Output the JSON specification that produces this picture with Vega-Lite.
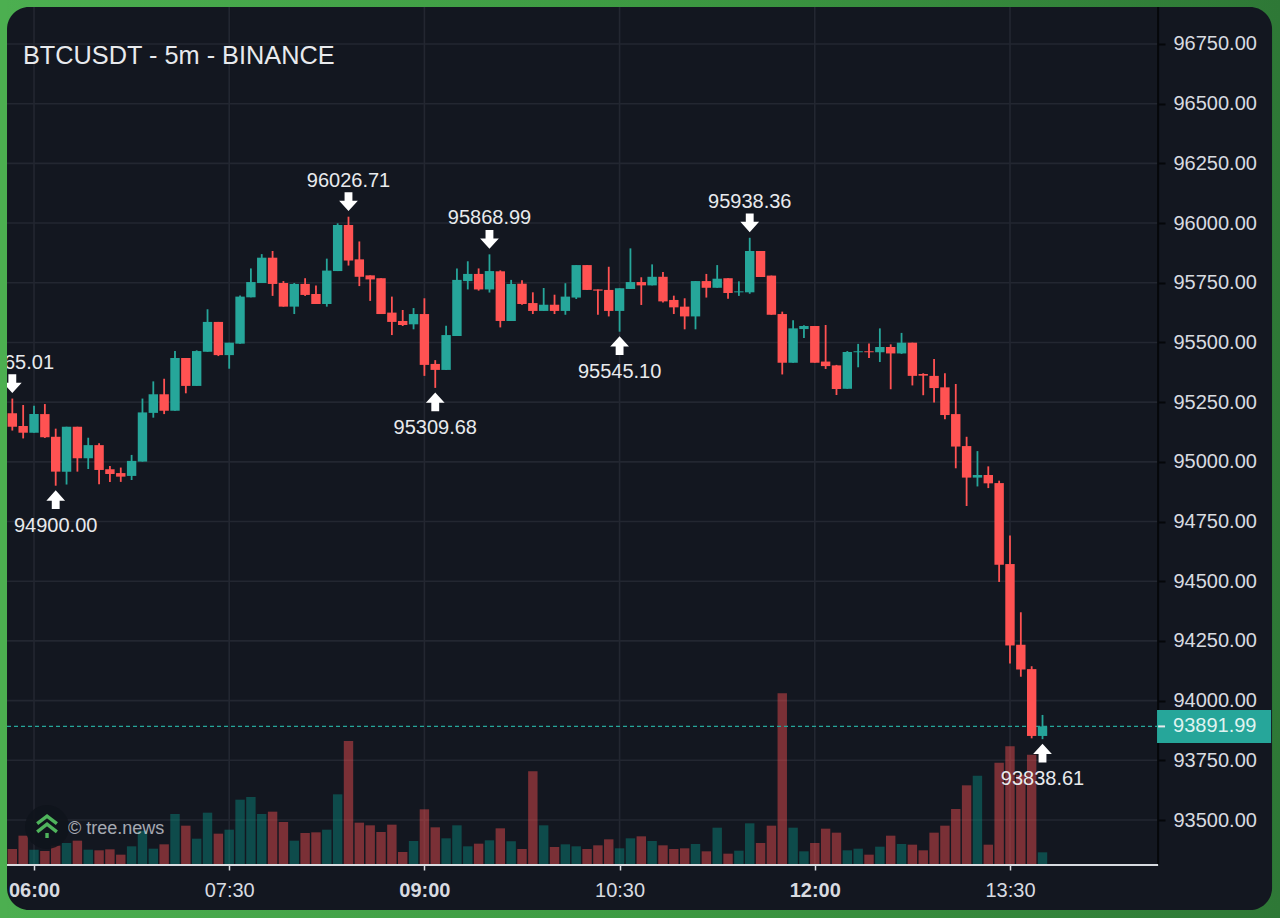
{
  "$schema": "https://vega.github.io/schema/vega-lite/v6.json",
  "width": 1280,
  "height": 918,
  "padding": 0,
  "autosize": {"type": "none"},
  "background": "#3e9142",
  "title": {"text": "BTCUSDT - 5m - BINANCE", "anchor": "start", "frame": "group", "orient": "top", "offset": -81, "dx": 23, "baseline": "middle", "fontSize": 25.3, "fontWeight": "normal", "color": "#e8eaed"},
  "config": {"view": {"stroke": null}, "font": "Liberation Sans"},
  "datasets": {
    "candles": [
      {"t":"2025-01-07T05:50:00","o":95203,"h":95265.01,"l":95131,"c":95147,"v":45},
      {"t":"2025-01-07T05:55:00","o":95150,"h":95238,"l":95098,"c":95122,"v":85},
      {"t":"2025-01-07T06:00:00","o":95122,"h":95235,"l":95122,"c":95200,"v":43},
      {"t":"2025-01-07T06:05:00","o":95200,"h":95242,"l":95100,"c":95103,"v":39},
      {"t":"2025-01-07T06:10:00","o":95105,"h":95139,"l":94900,"c":94959,"v":55},
      {"t":"2025-01-07T06:15:00","o":94959,"h":95147,"l":94905,"c":95147,"v":63},
      {"t":"2025-01-07T06:20:00","o":95147,"h":95147,"l":94959,"c":95015,"v":70},
      {"t":"2025-01-07T06:25:00","o":95015,"h":95101,"l":94970,"c":95070,"v":43},
      {"t":"2025-01-07T06:30:00","o":95070,"h":95078,"l":94906,"c":94966,"v":41},
      {"t":"2025-01-07T06:35:00","o":94969,"h":94983,"l":94916,"c":94949,"v":44},
      {"t":"2025-01-07T06:40:00","o":94953,"h":94976,"l":94916,"c":94938,"v":28},
      {"t":"2025-01-07T06:45:00","o":94941,"h":95029,"l":94924,"c":95004,"v":53},
      {"t":"2025-01-07T06:50:00","o":95001,"h":95265,"l":95001,"c":95207,"v":100},
      {"t":"2025-01-07T06:55:00","o":95205,"h":95337,"l":95185,"c":95283,"v":46},
      {"t":"2025-01-07T07:00:00","o":95283,"h":95348,"l":95200,"c":95214,"v":59},
      {"t":"2025-01-07T07:05:00","o":95214,"h":95464,"l":95214,"c":95435,"v":150},
      {"t":"2025-01-07T07:10:00","o":95435,"h":95435,"l":95287,"c":95318,"v":115},
      {"t":"2025-01-07T07:15:00","o":95318,"h":95467,"l":95318,"c":95464,"v":76},
      {"t":"2025-01-07T07:20:00","o":95461,"h":95639,"l":95461,"c":95586,"v":154},
      {"t":"2025-01-07T07:25:00","o":95586,"h":95586,"l":95443,"c":95447,"v":91},
      {"t":"2025-01-07T07:30:00","o":95447,"h":95499,"l":95390,"c":95499,"v":103},
      {"t":"2025-01-07T07:35:00","o":95495,"h":95697,"l":95495,"c":95692,"v":193},
      {"t":"2025-01-07T07:40:00","o":95689,"h":95810,"l":95689,"c":95753,"v":201},
      {"t":"2025-01-07T07:45:00","o":95749,"h":95870,"l":95749,"c":95855,"v":150},
      {"t":"2025-01-07T07:50:00","o":95855,"h":95883,"l":95695,"c":95745,"v":157},
      {"t":"2025-01-07T07:55:00","o":95749,"h":95757,"l":95650,"c":95650,"v":126},
      {"t":"2025-01-07T08:00:00","o":95650,"h":95749,"l":95619,"c":95745,"v":70},
      {"t":"2025-01-07T08:05:00","o":95745,"h":95769,"l":95695,"c":95699,"v":93},
      {"t":"2025-01-07T08:10:00","o":95703,"h":95738,"l":95661,"c":95661,"v":95},
      {"t":"2025-01-07T08:15:00","o":95661,"h":95851,"l":95650,"c":95801,"v":103},
      {"t":"2025-01-07T08:20:00","o":95799,"h":95999,"l":95799,"c":95992,"v":209},
      {"t":"2025-01-07T08:25:00","o":95992,"h":96026.71,"l":95822,"c":95843,"v":369},
      {"t":"2025-01-07T08:30:00","o":95848,"h":95923,"l":95736,"c":95775,"v":124},
      {"t":"2025-01-07T08:35:00","o":95781,"h":95781,"l":95674,"c":95764,"v":116},
      {"t":"2025-01-07T08:40:00","o":95769,"h":95769,"l":95619,"c":95619,"v":96},
      {"t":"2025-01-07T08:45:00","o":95625,"h":95692,"l":95531,"c":95586,"v":118},
      {"t":"2025-01-07T08:50:00","o":95590,"h":95636,"l":95569,"c":95573,"v":36},
      {"t":"2025-01-07T08:55:00","o":95576,"h":95644,"l":95555,"c":95619,"v":69},
      {"t":"2025-01-07T09:00:00","o":95619,"h":95685,"l":95360,"c":95406,"v":164},
      {"t":"2025-01-07T09:05:00","o":95410,"h":95426,"l":95309.68,"c":95385,"v":110},
      {"t":"2025-01-07T09:10:00","o":95385,"h":95570,"l":95385,"c":95531,"v":77},
      {"t":"2025-01-07T09:15:00","o":95527,"h":95810,"l":95527,"c":95762,"v":116},
      {"t":"2025-01-07T09:20:00","o":95757,"h":95840,"l":95722,"c":95787,"v":53},
      {"t":"2025-01-07T09:25:00","o":95787,"h":95810,"l":95717,"c":95722,"v":61},
      {"t":"2025-01-07T09:30:00","o":95722,"h":95868.99,"l":95709,"c":95799,"v":71},
      {"t":"2025-01-07T09:35:00","o":95798,"h":95802,"l":95563,"c":95590,"v":107},
      {"t":"2025-01-07T09:40:00","o":95590,"h":95762,"l":95590,"c":95745,"v":68},
      {"t":"2025-01-07T09:45:00","o":95746,"h":95760,"l":95658,"c":95661,"v":45},
      {"t":"2025-01-07T09:50:00","o":95665,"h":95710,"l":95619,"c":95632,"v":278},
      {"t":"2025-01-07T09:55:00","o":95632,"h":95728,"l":95632,"c":95658,"v":116},
      {"t":"2025-01-07T10:00:00","o":95658,"h":95700,"l":95619,"c":95632,"v":51},
      {"t":"2025-01-07T10:05:00","o":95632,"h":95748,"l":95616,"c":95692,"v":59},
      {"t":"2025-01-07T10:10:00","o":95688,"h":95824,"l":95682,"c":95824,"v":53},
      {"t":"2025-01-07T10:15:00","o":95824,"h":95824,"l":95720,"c":95720,"v":45},
      {"t":"2025-01-07T10:20:00","o":95722,"h":95722,"l":95616,"c":95717,"v":56},
      {"t":"2025-01-07T10:25:00","o":95720,"h":95817,"l":95609,"c":95632,"v":74},
      {"t":"2025-01-07T10:30:00","o":95632,"h":95727,"l":95545.10,"c":95727,"v":47},
      {"t":"2025-01-07T10:35:00","o":95724,"h":95894,"l":95724,"c":95753,"v":77},
      {"t":"2025-01-07T10:40:00","o":95753,"h":95773,"l":95657,"c":95739,"v":83},
      {"t":"2025-01-07T10:45:00","o":95739,"h":95827,"l":95739,"c":95775,"v":69},
      {"t":"2025-01-07T10:50:00","o":95775,"h":95795,"l":95667,"c":95672,"v":56},
      {"t":"2025-01-07T10:55:00","o":95678,"h":95696,"l":95619,"c":95647,"v":45},
      {"t":"2025-01-07T11:00:00","o":95650,"h":95685,"l":95555,"c":95609,"v":47},
      {"t":"2025-01-07T11:05:00","o":95609,"h":95757,"l":95555,"c":95757,"v":60},
      {"t":"2025-01-07T11:10:00","o":95757,"h":95787,"l":95688,"c":95729,"v":38},
      {"t":"2025-01-07T11:15:00","o":95729,"h":95824,"l":95729,"c":95767,"v":109},
      {"t":"2025-01-07T11:20:00","o":95769,"h":95769,"l":95683,"c":95707,"v":31},
      {"t":"2025-01-07T11:25:00","o":95710,"h":95756,"l":95695,"c":95714,"v":40},
      {"t":"2025-01-07T11:30:00","o":95710,"h":95938.36,"l":95704,"c":95883,"v":122},
      {"t":"2025-01-07T11:35:00","o":95883,"h":95883,"l":95774,"c":95774,"v":63},
      {"t":"2025-01-07T11:40:00","o":95780,"h":95780,"l":95616,"c":95616,"v":115},
      {"t":"2025-01-07T11:45:00","o":95619,"h":95629,"l":95366,"c":95415,"v":512},
      {"t":"2025-01-07T11:50:00","o":95415,"h":95593,"l":95415,"c":95559,"v":109},
      {"t":"2025-01-07T11:55:00","o":95556,"h":95572,"l":95519,"c":95569,"v":38},
      {"t":"2025-01-07T12:00:00","o":95569,"h":95569,"l":95415,"c":95415,"v":63},
      {"t":"2025-01-07T12:05:00","o":95420,"h":95573,"l":95389,"c":95401,"v":106},
      {"t":"2025-01-07T12:10:00","o":95404,"h":95406,"l":95280,"c":95305,"v":94},
      {"t":"2025-01-07T12:15:00","o":95306,"h":95464,"l":95306,"c":95460,"v":41},
      {"t":"2025-01-07T12:20:00","o":95459,"h":95494,"l":95396,"c":95463,"v":46},
      {"t":"2025-01-07T12:25:00","o":95463,"h":95496,"l":95435,"c":95459,"v":28},
      {"t":"2025-01-07T12:30:00","o":95459,"h":95559,"l":95418,"c":95481,"v":52},
      {"t":"2025-01-07T12:35:00","o":95481,"h":95492,"l":95304,"c":95454,"v":85},
      {"t":"2025-01-07T12:40:00","o":95454,"h":95540,"l":95452,"c":95499,"v":60},
      {"t":"2025-01-07T12:45:00","o":95499,"h":95499,"l":95320,"c":95360,"v":58},
      {"t":"2025-01-07T12:50:00","o":95368,"h":95371,"l":95279,"c":95361,"v":41},
      {"t":"2025-01-07T12:55:00","o":95360,"h":95431,"l":95248,"c":95309,"v":94},
      {"t":"2025-01-07T13:00:00","o":95312,"h":95371,"l":95178,"c":95196,"v":115},
      {"t":"2025-01-07T13:05:00","o":95200,"h":95326,"l":94973,"c":95064,"v":165},
      {"t":"2025-01-07T13:10:00","o":95066,"h":95105,"l":94815,"c":94934,"v":236},
      {"t":"2025-01-07T13:15:00","o":94934,"h":95045,"l":94897,"c":94945,"v":265},
      {"t":"2025-01-07T13:20:00","o":94945,"h":94981,"l":94890,"c":94910,"v":58},
      {"t":"2025-01-07T13:25:00","o":94911,"h":94921,"l":94497,"c":94569,"v":304},
      {"t":"2025-01-07T13:30:00","o":94572,"h":94691,"l":94155,"c":94231,"v":353},
      {"t":"2025-01-07T13:35:00","o":94234,"h":94370,"l":94100,"c":94130,"v":268},
      {"t":"2025-01-07T13:40:00","o":94132,"h":94144,"l":93842,"c":93852,"v":328},
      {"t":"2025-01-07T13:45:00","o":93852,"h":93940,"l":93838.61,"c":93891.99,"v":35}
    ],
    "highs": [
      {"t":"2025-01-07T05:50:00","p":95265.01},
      {"t":"2025-01-07T08:25:00","p":96026.71},
      {"t":"2025-01-07T09:30:00","p":95868.99},
      {"t":"2025-01-07T11:30:00","p":95938.36}
    ],
    "lows": [
      {"t":"2025-01-07T06:10:00","p":94900.00},
      {"t":"2025-01-07T09:05:00","p":95309.68},
      {"t":"2025-01-07T10:30:00","p":95545.10},
      {"t":"2025-01-07T13:45:00","p":93838.61}
    ],
    "priceLevels": [
      {"p":93500},{"p":93750},{"p":94000},{"p":94250},{"p":94500},{"p":94750},{"p":95000},
      {"p":95250},{"p":95500},{"p":95750},{"p":96000},{"p":96250},{"p":96500},{"p":96750}
    ],
    "timeLevels": [
      {"t":"2025-01-07T06:00:00"},{"t":"2025-01-07T07:30:00"},{"t":"2025-01-07T09:00:00"},
      {"t":"2025-01-07T10:30:00"},{"t":"2025-01-07T12:00:00"},{"t":"2025-01-07T13:30:00"}
    ],
    "last": [{"p":93891.99}],
    "one": [{}]
  },
  "layer": [
    {
      "data": {"name": "one"},
      "resolve": {"axis": {"x": "independent"}},
      "layer": [
        {
          "mark": {"type": "rect", "color": {"gradient": "linear", "x1": 0, "y1": 0, "x2": 1, "y2": 0, "stops": [{"offset": 0, "color": "#4caf50"}, {"offset": 0.5, "color": "#3d9a42"}, {"offset": 1, "color": "#2e7836"}]}},
          "encoding": {
            "x": {
              "datum": {"year":2025,"month":1,"date":7,"hours":5,"minutes":44,"seconds":19}, "type": "temporal", "title": null,
              "scale": {"domain": [{"year":2025,"month":1,"date":7,"hours":5,"minutes":44,"seconds":19}, {"year":2025,"month":1,"date":7,"hours":15,"minutes":34,"seconds":30}], "padding": 0, "nice": false},
              "axis": {
                "orient": "bottom", "offset": -53,
                "values": [{"year":2025,"month":1,"date":7,"hours":6}, {"year":2025,"month":1,"date":7,"hours":7,"minutes":30}, {"year":2025,"month":1,"date":7,"hours":9}, {"year":2025,"month":1,"date":7,"hours":10,"minutes":30}, {"year":2025,"month":1,"date":7,"hours":12}, {"year":2025,"month":1,"date":7,"hours":13,"minutes":30}],
                "format": "%H:%M", "grid": false, "domain": false, "zindex": 1, "tickColor": "#d8dbe0", "tickSize": 5, "tickWidth": 1.5,
                "labelFontSize": 20, "labelColor": "#d8dbe0", "labelPadding": 10, "labelOverlap": false, "labelFlush": false,
                "labelFontWeight": {"condition": {"test": "hours(datum.value) % 3 == 0 && minutes(datum.value) == 0", "value": "bold"}, "value": "normal"}
              }
            },
            "x2": {"datum": {"year":2025,"month":1,"date":7,"hours":15,"minutes":34,"seconds":30}},
            "y": {"datum": 96934.2, "type": "quantitative", "axis": null, "scale": {"domain": [93089.6, 96934.2], "zero": false, "nice": false}},
            "y2": {"datum": 93089.6}
          }
        },
        {
          "mark": {"type": "rect", "color": "#131720", "cornerRadius": 22},
          "encoding": {
            "x": {"datum": {"year":2025,"month":1,"date":7,"hours":5,"minutes":47,"seconds":33}, "type": "temporal", "axis": null},
            "x2": {"datum": {"year":2025,"month":1,"date":7,"hours":15,"minutes":30,"seconds":50}},
            "y": {"datum": 96904.9, "type": "quantitative", "axis": null},
            "y2": {"datum": 93123}
          }
        },
        {
          "data": {"name": "priceLevels"},
          "mark": {"type": "rule", "color": "#232731", "strokeWidth": 1.6},
          "encoding": {
            "x": {"datum": {"year":2025,"month":1,"date":7,"hours":5,"minutes":47,"seconds":33}, "type": "temporal", "axis": null},
            "x2": {"datum": {"year":2025,"month":1,"date":7,"hours":14,"minutes":38,"seconds":18}},
            "y": {"field": "p", "type": "quantitative", "axis": null}
          }
        },
        {
          "data": {"name": "timeLevels"},
          "mark": {"type": "rule", "color": "#232731", "strokeWidth": 1.6},
          "encoding": {
            "x": {"field": "t", "type": "temporal", "axis": null},
            "y": {"datum": 96904.9, "type": "quantitative", "axis": null},
            "y2": {"datum": 93311.5}
          }
        }
      ]
    },
    {
      "data": {"name": "candles"},
      "mark": {"type": "bar", "size": 9.4, "opacity": 0.44},
      "encoding": {
        "x": {"field": "t", "type": "temporal", "axis": null, "scale": {"padding": 0}},
        "y": {"field": "v", "type": "quantitative", "axis": null, "stack": null, "scale": {"domain": [-162, 2592], "nice": false}},
        "color": {"condition": {"test": "datum.c >= datum.o", "value": "#0a9082"}, "value": "#ff5252"}
      }
    },
    {
      "resolve": {"axis": {"x": "independent", "y": "independent"}},
      "layer": [
        {
          "data": {"name": "last"},
          "mark": {"type": "rule", "color": "#26a69a", "strokeWidth": 1.4, "strokeDash": [4, 3]},
          "encoding": {
            "x": {"datum": {"year":2025,"month":1,"date":7,"hours":5,"minutes":47,"seconds":33}, "type": "temporal", "axis": null},
            "x2": {"datum": {"year":2025,"month":1,"date":7,"hours":14,"minutes":38,"seconds":18}},
            "y": {
              "field": "p", "type": "quantitative", "title": null,
              "scale": {"domain": [93089.6, 96934.2], "zero": false, "nice": false},
              "axis": {
                "orient": "right", "offset": -122, "values": [93500, 93750, 94000, 94250, 94500, 94750, 95000, 95250, 95500, 95750, 96000, 96250, 96500, 96750],
                "format": ".2f", "grid": false, "domain": false, "zindex": 1, "tickColor": "#05070a", "tickSize": 7, "tickWidth": 2,
                "labelFontSize": 20, "labelColor": "#d8dbe0", "labelPadding": 8, "labelOverlap": false, "labelFlush": false
              }
            }
          }
        },
        {
          "data": {"name": "candles"},
          "mark": {"type": "rule", "strokeWidth": 1.8},
          "encoding": {
            "x": {"field": "t", "type": "temporal", "axis": null},
            "y": {"field": "l", "type": "quantitative", "axis": null},
            "y2": {"field": "h"},
            "color": {"condition": {"test": "datum.c >= datum.o", "value": "#26a69a"}, "value": "#ff5252"}
          }
        },
        {
          "data": {"name": "candles"},
          "mark": {"type": "bar", "size": 9.4},
          "encoding": {
            "x": {"field": "t", "type": "temporal", "axis": null, "scale": {"padding": 0}},
            "y": {"field": "o", "type": "quantitative", "axis": null},
            "y2": {"field": "c"},
            "color": {"condition": {"test": "datum.c >= datum.o", "value": "#26a69a"}, "value": "#ff5252"}
          }
        },
        {
          "data": {"name": "one"},
          "mark": {"type": "rule", "color": "#05070a", "strokeWidth": 2},
          "encoding": {
            "x": {"datum": {"year":2025,"month":1,"date":7,"hours":14,"minutes":38,"seconds":18}, "type": "temporal", "axis": null},
            "y": {"datum": 96904.9, "type": "quantitative", "axis": null},
            "y2": {"datum": 93311.5}
          }
        },
        {
          "data": {"name": "one"},
          "mark": {"type": "rule", "color": "#d8dbe0", "strokeWidth": 1.8},
          "encoding": {
            "x": {"datum": {"year":2025,"month":1,"date":7,"hours":5,"minutes":47,"seconds":33}, "type": "temporal", "axis": null},
            "x2": {"datum": {"year":2025,"month":1,"date":7,"hours":14,"minutes":38,"seconds":18}},
            "y": {"datum": 93311.5, "type": "quantitative", "axis": null}
          }
        },
        {
          "data": {"name": "last"},
          "mark": {"type": "rule", "color": "#26a69a", "strokeWidth": 33},
          "encoding": {
            "x": {"datum": {"year":2025,"month":1,"date":7,"hours":14,"minutes":37,"seconds":48}, "type": "temporal", "axis": null},
            "x2": {"datum": {"year":2025,"month":1,"date":7,"hours":15,"minutes":30,"seconds":24}},
            "y": {"field": "p", "type": "quantitative", "axis": null}
          }
        },
        {
          "data": {"name": "last"},
          "mark": {"type": "rule", "color": "#e8eaed", "strokeWidth": 2},
          "encoding": {
            "x": {"datum": {"year":2025,"month":1,"date":7,"hours":14,"minutes":38,"seconds":18}, "type": "temporal", "axis": null},
            "x2": {"datum": {"year":2025,"month":1,"date":7,"hours":14,"minutes":41,"seconds":30}},
            "y": {"field": "p", "type": "quantitative", "axis": null}
          }
        },
        {
          "data": {"name": "last"},
          "mark": {"type": "text", "align": "left", "baseline": "middle", "fontSize": 20, "color": "#dff3f0"},
          "encoding": {
            "x": {"datum": {"year":2025,"month":1,"date":7,"hours":14,"minutes":45,"seconds":12}, "type": "temporal", "axis": null},
            "y": {"field": "p", "type": "quantitative", "axis": null},
            "text": {"field": "p", "type": "quantitative", "format": ".2f"}
          }
        },
        {
          "data": {"name": "highs"},
          "mark": {"type": "point", "shape": "M-0.42,-1L0.42,-1L0.42,-0.1L1,-0.1L0,1L-1,-0.1L-0.42,-0.1Z", "filled": true, "color": "#ffffff", "opacity": 1, "size": 350, "yOffset": -15},
          "encoding": {
            "x": {"field": "t", "type": "temporal", "axis": null},
            "y": {"field": "p", "type": "quantitative", "axis": null}
          }
        },
        {
          "data": {"name": "highs"},
          "mark": {"type": "text", "baseline": "middle", "fontSize": 20, "color": "#e8eaed", "yOffset": -36},
          "encoding": {
            "x": {"field": "t", "type": "temporal", "axis": null},
            "y": {"field": "p", "type": "quantitative", "axis": null},
            "text": {"field": "p", "type": "quantitative", "format": ".2f"}
          }
        },
        {
          "data": {"name": "lows"},
          "mark": {"type": "point", "shape": "M-0.42,1L0.42,1L0.42,0.1L1,0.1L0,-1L-1,0.1L-0.42,0.1Z", "filled": true, "color": "#ffffff", "opacity": 1, "size": 350, "yOffset": 14},
          "encoding": {
            "x": {"field": "t", "type": "temporal", "axis": null},
            "y": {"field": "p", "type": "quantitative", "axis": null}
          }
        },
        {
          "data": {"name": "lows"},
          "mark": {"type": "text", "baseline": "middle", "fontSize": 20, "color": "#e8eaed", "yOffset": 40},
          "encoding": {
            "x": {"field": "t", "type": "temporal", "axis": null},
            "y": {"field": "p", "type": "quantitative", "axis": null},
            "text": {"field": "p", "type": "quantitative", "format": ".2f"}
          }
        },
        {
          "data": {"name": "one"},
          "mark": {"type": "point", "shape": "circle", "filled": true, "color": "#10141c", "opacity": 0.9, "size": 1936},
          "encoding": {
            "x": {"datum": {"year":2025,"month":1,"date":7,"hours":6,"minutes":6}, "type": "temporal", "axis": null},
            "y": {"datum": 93470.7, "type": "quantitative", "axis": null}
          }
        },
        {
          "data": {"name": "one"},
          "mark": {"type": "point", "shape": "M-0.9,-0.3L0,-1L0.9,-0.3M-0.9,0.45L0,-0.25L0.9,0.45M0,0.55L0,1", "filled": false, "stroke": "#4fb45c", "strokeWidth": 3.4, "opacity": 1, "size": 480},
          "encoding": {
            "x": {"datum": {"year":2025,"month":1,"date":7,"hours":6,"minutes":6}, "type": "temporal", "axis": null},
            "y": {"datum": 93470.7, "type": "quantitative", "axis": null}
          }
        },
        {
          "data": {"name": "one"},
          "mark": {"type": "text", "align": "left", "baseline": "middle", "fontSize": 18, "color": "#d8dbe0", "opacity": 0.75, "text": "© tree.news"},
          "encoding": {
            "x": {"datum": {"year":2025,"month":1,"date":7,"hours":6,"minutes":15,"seconds":41}, "type": "temporal", "axis": null},
            "y": {"datum": 93464, "type": "quantitative", "axis": null}
          }
        },
        {
          "data": {"name": "one"},
          "mark": {"type": "rect", "color": "#4caf50"},
          "encoding": {
            "x": {"datum": {"year":2025,"month":1,"date":7,"hours":5,"minutes":44,"seconds":19}, "type": "temporal", "axis": null},
            "x2": {"datum": {"year":2025,"month":1,"date":7,"hours":5,"minutes":47,"seconds":33}},
            "y": {"datum": 96934.2, "type": "quantitative", "axis": null},
            "y2": {"datum": 93089.6}
          }
        }
      ]
    }
  ],
  "resolve": {"scale": {"y": "independent"}, "axis": {"x": "independent"}}
}
